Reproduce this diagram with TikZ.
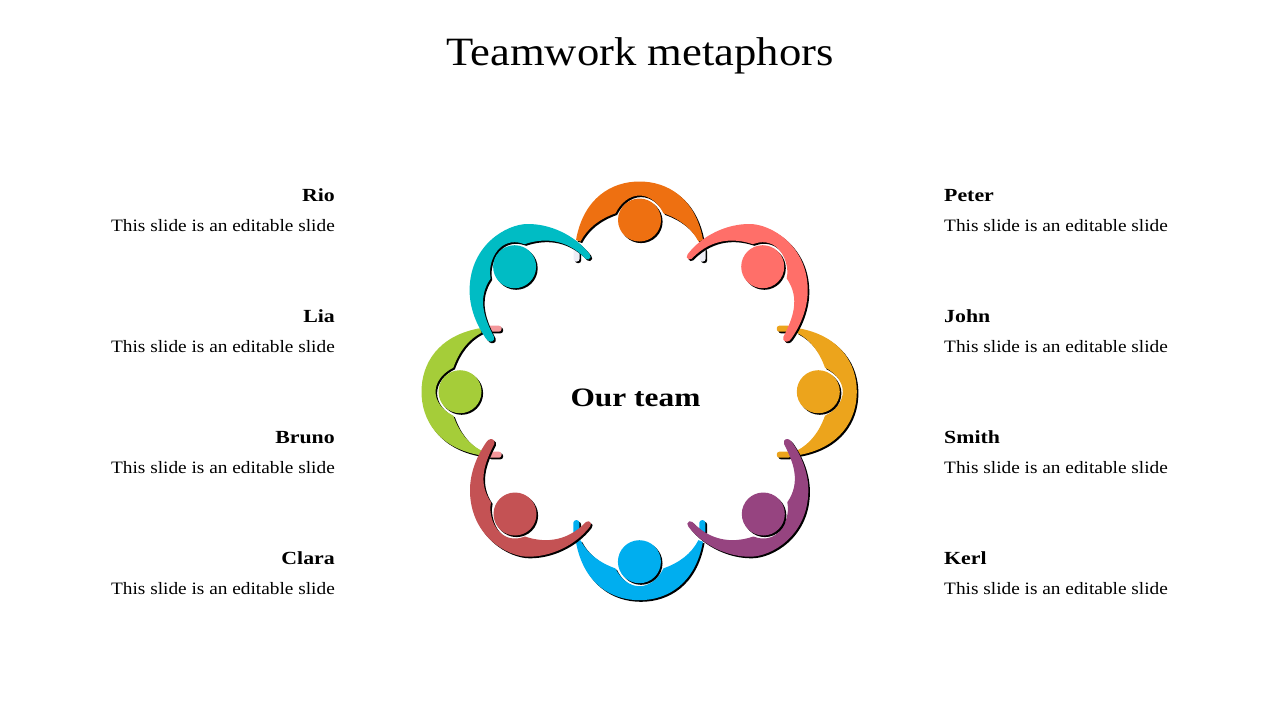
\documentclass[tikz,border=0pt]{standalone}
\usepackage{fontspec}
\setmainfont[FakeStretch=1.11,BoldFeatures={FakeStretch=1.18}]{Liberation Serif}
\definecolor{cOrange}{HTML}{EE7011}
\definecolor{cCoral}{HTML}{FF6F69}
\definecolor{cYellow}{HTML}{ECA41C}
\definecolor{cPurple}{HTML}{964480}
\definecolor{cBlue}{HTML}{00AEEF}
\definecolor{cRed}{HTML}{C45254}
\definecolor{cGreen}{HTML}{A5CD39}
\definecolor{cTeal}{HTML}{00BCC4}
\definecolor{cPale}{HTML}{EEEEF6}
\definecolor{cPink}{HTML}{F4979B}
\def\shortbody{(-63.5,20) .. controls (-56,-22) and (-28,-38.5) .. (0,-38.5) .. controls (28,-38.5) and (56,-22) .. (63.5,20)
 -- (59,21.5) .. controls (52,8) and (40,-1) .. (24,-6.7)
 .. controls (19,-17) and (10,-24.5) .. (0,-24.5) .. controls (-10,-24.5) and (-19,-17) .. (-24,-6.7)
 .. controls (-40,-1) and (-52,8) .. (-59,21.5) -- cycle}
\def\longbody{(-75,-12.5) .. controls (-60,-32) and (-35,-43) .. (-12.7,-42.7)
 .. controls (8,-42.5) and (44,-22) .. (45,22)
 .. controls (45.5,42) and (37,60) .. (28.5,72)
 .. controls (26.5,75.5) and (22,76) .. (20.7,73) .. controls (20,71.5) and (20,71) .. (20.7,70)
 .. controls (30,52) and (38,32) .. (24,11.7)
 .. controls (27,0) and (20,-24.5) .. (0,-24.5) .. controls (-4,-24.5) and (-7,-23.5) .. (-10,-22.5)
 .. controls (-26,-28) and (-50,-30) .. (-71,-8)
 .. controls (-72.5,-6.5) and (-75.5,-7) .. (-76,-9.5) .. controls (-76.3,-11) and (-75.8,-11.5) .. (-75,-12.5) -- cycle}
% \stubs{x}{y}{transform}{shadow dx}{shadow dy}{colour}
\newcommand\stubs[6]{%
 \begin{scope}[shift={(#1,#2)},#3]
 \fill[black,rounded corners=2.5,shift={(#4,#5)}] (-66,27.5) rectangle (-60,41.5);
 \fill[black,rounded corners=2.5,shift={(#4,#5)}] (60,27.5) rectangle (66,41.5);
 \fill[#6,rounded corners=2.5] (-66,27.5) rectangle (-60,41.5);
 \fill[#6,rounded corners=2.5] (60,27.5) rectangle (66,41.5);
 \end{scope}}
% \person{x}{y}{transform}{body}{colour}
\newcommand\person[5]{%
 \begin{scope}[shift={(#1+1.6,#2+1.6)},#3]\fill[black] #4;\end{scope}
 \begin{scope}[shift={(#1,#2)},#3]\fill[#5] #4;\end{scope}
 \fill[black] (#1+1.6,#2+1.6) circle (21.5);
 \fill[#5] (#1,#2) circle (21.5);}
\tikzset{nameText/.style={font=\bfseries\fontsize{18.5}{20}\selectfont,inner sep=0pt},
 descText/.style={font=\fontsize{17.4}{19}\selectfont,inner sep=0pt},
 lft/.style={anchor=base east},rgt/.style={anchor=base west}}
\begin{document}
\begin{tikzpicture}[x=1pt,y=-1pt]
\useasboundingbox (0,0) rectangle (1280,720);
\node[inner sep=0pt,anchor=base,font=\fontsize{40.2}{44}\selectfont] (title) at (640,65.5) {Teamwork metaphors};
% short-armed figures
\stubs{639.5}{220}{}{1.6}{1.6}{cPale}
\person{639.5}{220}{}{\shortbody}{cOrange}
\stubs{818.3}{391.7}{rotate=-90}{1.6}{-1.6}{cYellow}
\person{818.3}{391.7}{rotate=-90}{\shortbody}{cYellow}
\stubs{639.4}{561.7}{yscale=-1}{1.6}{-1.6}{cBlue}
\person{639.4}{561.7}{yscale=-1}{\shortbody}{cBlue}
\stubs{460}{391.7}{rotate=90}{-1.6}{1.6}{cPink}
\person{460}{391.7}{rotate=90}{\shortbody}{cGreen}
% long-armed figures
\person{762.7}{266.7}{}{\longbody}{cCoral}
\person{514.6}{266.7}{xscale=-1}{\longbody}{cTeal}
\person{515}{514}{xscale=-1,yscale=-1}{\longbody}{cRed}
\person{763.3}{514}{yscale=-1}{\longbody}{cPurple}
\node[inner sep=0pt,anchor=base,font=\bfseries\fontsize{26.6}{29}\selectfont] (team) at (635.5,406.5) {Our team};
\node[nameText,lft] (n1) at (335,201.5) {Rio};
\node[descText,lft] (d1) at (335,231.5) {This slide is an editable slide};
\node[nameText,lft] (n2) at (335,322.5) {Lia};
\node[descText,lft] (d2) at (335,352.5) {This slide is an editable slide};
\node[nameText,lft] (n3) at (335,443.5) {Bruno};
\node[descText,lft] (d3) at (335,473.5) {This slide is an editable slide};
\node[nameText,lft] (n4) at (335,564.5) {Clara};
\node[descText,lft] (d4) at (335,594.5) {This slide is an editable slide};
\node[nameText,rgt] (n5) at (944,201.5) {Peter};
\node[descText,rgt] (d5) at (944,231.5) {This slide is an editable slide};
\node[nameText,rgt] (n6) at (944,322.5) {John};
\node[descText,rgt] (d6) at (944,352.5) {This slide is an editable slide};
\node[nameText,rgt] (n7) at (944,443.5) {Smith};
\node[descText,rgt] (d7) at (944,473.5) {This slide is an editable slide};
\node[nameText,rgt] (n8) at (944,564.5) {Kerl};
\node[descText,rgt] (d8) at (944,594.5) {This slide is an editable slide};
\end{tikzpicture}
\end{document}
